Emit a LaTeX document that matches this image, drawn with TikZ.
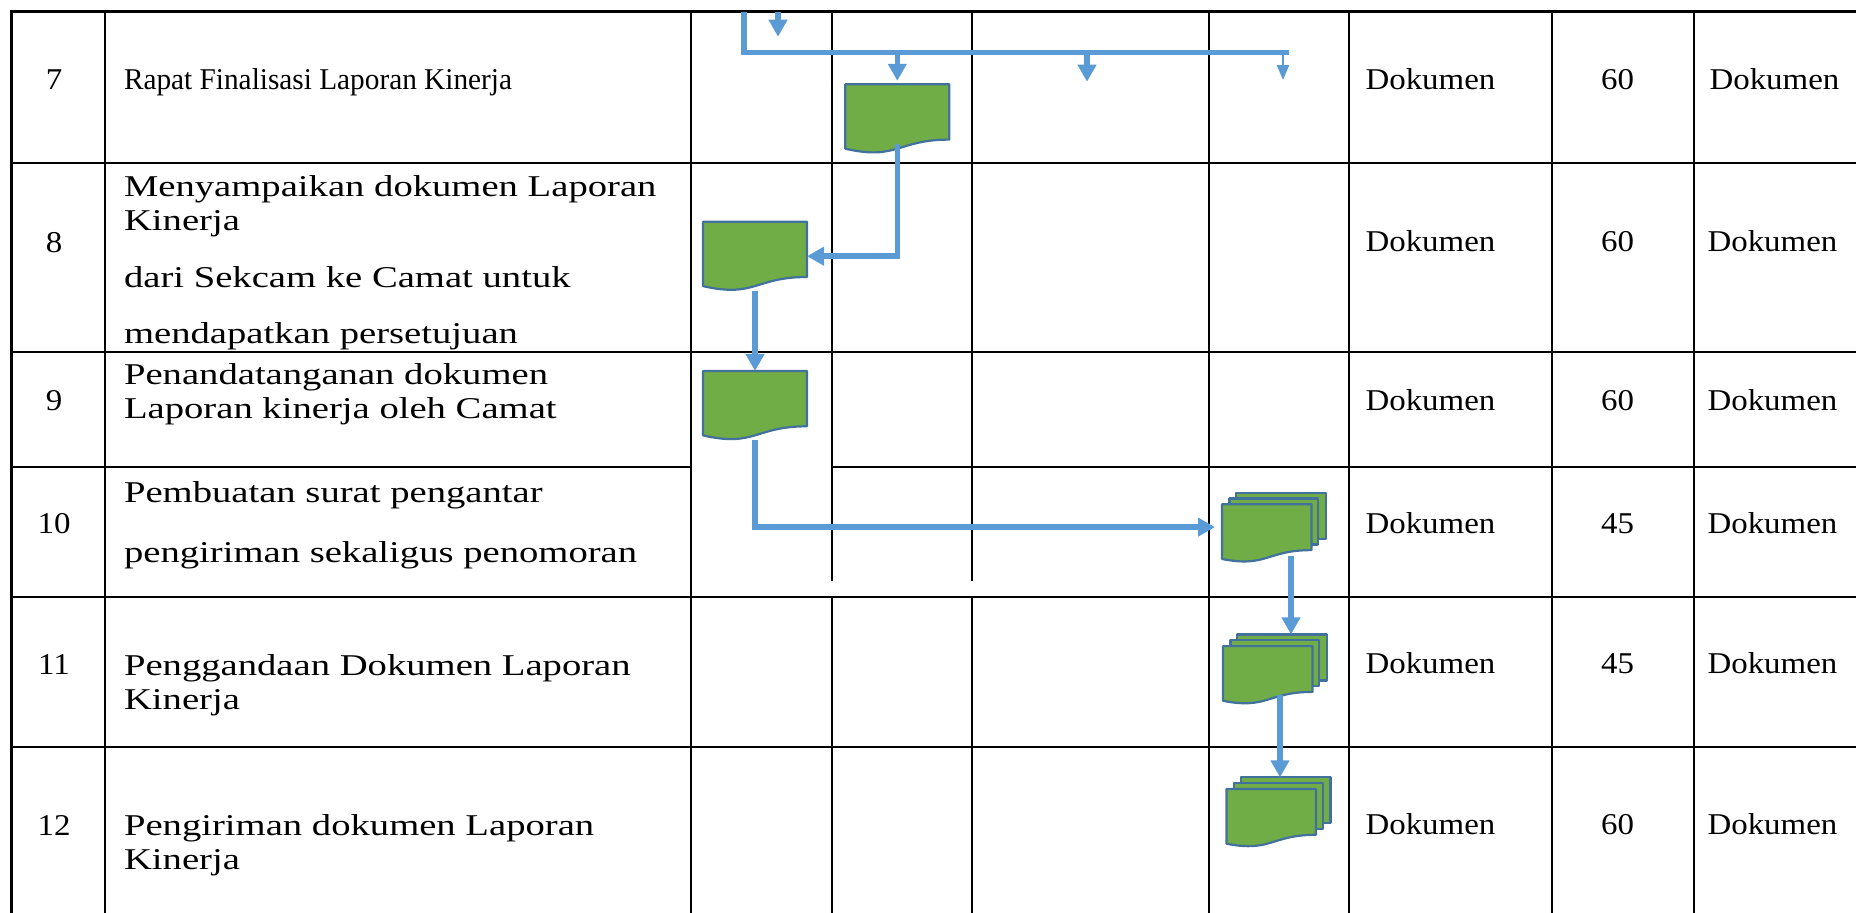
\documentclass[tikz,border=0pt]{standalone}
\usepackage{fontspec}
\usepackage{tikz}
\usetikzlibrary{arrows.meta,calc}
\newfontfamily\cellfont[FakeStretch=1.09]{Liberation Serif}
\newfontfamily\narrowfont[FakeStretch=0.97]{Liberation Serif}
\newfontfamily\descfont[FakeStretch=1.28]{Liberation Serif}
\definecolor{flowblue}{RGB}{91,155,213}
\definecolor{docgreen}{RGB}{112,173,71}
\definecolor{docedge}{RGB}{65,113,156}
\def\docpage(#1){\begin{scope}[shift={(#1.north west)}]
	\draw[docline] (0,0) -- (104,0) -- (104,55.3) .. controls (52,55.3) and (52,76.4) .. (0,64.4) -- cycle;
\end{scope}}
\def\multidoc(#1){\begin{scope}[shift={(#1.north west)}]
	\draw[docline] (14.3,0) rectangle (104,46);
	\draw[docline] (7.4,5.9) rectangle (96.3,51.9);
	\draw[docline] (0,11.7) -- (89.5,11.7) -- (89.5,57.5) .. controls (44.7,57.5) and (44.7,75.2) .. (0,66.4) -- cycle;
\end{scope}}

\begin{document}
\begin{tikzpicture}[x=1pt, y=-1pt,
	grid/.style={line width=2.3pt, black, line cap=rect},
	flowline/.style={line width=5.5pt, flowblue},
	flow/.style={flowline, -{Triangle[length=17pt,width=18pt]}},
	thinflow/.style={line width=2.8pt, flowblue, -{Triangle[length=15pt,width=12pt]}},
	docline/.style={line width=2.2pt, draw=docedge, fill=docgreen, line join=round},
	docbox/.style={minimum width=104pt, minimum height=69pt, inner sep=0pt, outer sep=0pt},
	num/.style={font=\cellfont\fontsize{30.2pt}{36pt}\selectfont, anchor=base},
	cell/.style={font=\cellfont\fontsize{30.2pt}{36pt}\selectfont, anchor=base west},
	desc/.style={font=\descfont\fontsize{30.2pt}{36pt}\selectfont, anchor=base west}]
	%%%%% START %%%%%
	\useasboundingbox (0,0) rectangle (1856,913);
	
	% table rules
	\draw[grid] (11.5,11.5) -- (1856,11.5);
	\draw[grid] (11.5,162.7) -- (1856,162.7);
	\draw[grid] (11.5,351.7) -- (1856,351.7);
	\draw[grid] (11.5,466.7) -- (691,466.7);
	\draw[grid] (832,466.7) -- (1856,466.7);
	\draw[grid] (11.5,596.7) -- (1856,596.7);
	\draw[grid] (11.5,747.3) -- (1856,747.3);
	
	\draw[grid] (11.5,11.5) -- (11.5,913);
	\draw[grid] (105,11.5) -- (105,913);
	\draw[grid] (691,11.5) -- (691,913);
	\draw[grid] (832,11.5) -- (832,580);
	\draw[grid] (832,596.7) -- (832,913);
	\draw[grid] (972,11.5) -- (972,580);
	\draw[grid] (972,596.7) -- (972,913);
	\draw[grid] (1209,11.5) -- (1209,913);
	\draw[grid] (1349,11.5) -- (1349,913);
	\draw[grid] (1552,11.5) -- (1552,913);
	\draw[grid] (1694,11.5) -- (1694,913);
	
	% row 7
	\node[num] (n7) at (54,89) {7};
	\node[cell, font=\narrowfont\fontsize{30.2pt}{36pt}\selectfont] (d7) at (120.5,89) {Rapat Finalisasi Laporan Kinerja};
	\node[cell] (in7) at (1362,89) {Dokumen};
	\node[num] (v7) at (1617.5,89) {60};
	\node[cell] (out7) at (1706,89) {Dokumen};
	
	% row 8
	\node[num] (n8) at (54,252) {8};
	\node[desc] (d8a) at (120.5,196) {Menyampaikan dokumen Laporan};
	\node[desc] (d8b) at (120.5,230) {Kinerja};
	\node[desc] (d8c) at (120.5,287) {dari Sekcam ke Camat untuk};
	\node[desc] (d8d) at (120.5,343) {mendapatkan persetujuan};
	\node[cell] (in8) at (1362,251) {Dokumen};
	\node[num] (v8) at (1617.5,251) {60};
	\node[cell] (out8) at (1704,251) {Dokumen};
	
	% row 9
	\node[num] (n9) at (54,410) {9};
	\node[desc] (d9a) at (120.5,384) {Penandatanganan dokumen};
	\node[desc] (d9b) at (120.5,418) {Laporan kinerja oleh Camat};
	\node[cell] (in9) at (1362,410) {Dokumen};
	\node[num] (v9) at (1617.5,410) {60};
	\node[cell] (out9) at (1704,410) {Dokumen};
	
	% row 10
	\node[num] (n10) at (54,533) {10};
	\node[desc] (d10a) at (120.5,502) {Pembuatan surat pengantar};
	\node[desc] (d10b) at (120.5,562) {pengiriman sekaligus penomoran};
	\node[cell] (in10) at (1362,533) {Dokumen};
	\node[num] (v10) at (1617.5,533) {45};
	\node[cell] (out10) at (1704,533) {Dokumen};
	
	% row 11
	\node[num] (n11) at (54,674) {11};
	\node[desc] (d11a) at (120.5,675) {Penggandaan Dokumen Laporan};
	\node[desc] (d11b) at (120.5,709) {Kinerja};
	\node[cell] (in11) at (1362,673) {Dokumen};
	\node[num] (v11) at (1617.5,673) {45};
	\node[cell] (out11) at (1704,673) {Dokumen};
	
	% row 12
	\node[num] (n12) at (54,835) {12};
	\node[desc] (d12a) at (120.5,835) {Pengiriman dokumen Laporan};
	\node[desc] (d12b) at (120.5,869) {Kinerja};
	\node[cell] (in12) at (1362,834) {Dokumen};
	\node[num] (v12) at (1617.5,834) {60};
	\node[cell] (out12) at (1704,834) {Dokumen};
	
	% documents
	\node[docbox] (doc7) at (897.3,118.8) {};
	\node[docbox] (doc8) at (755,256.2) {};
	\node[docbox] (doc9) at (755,405.5) {};
	\node[docbox] (doc10) at (1274,527.1) {};
	\node[docbox] (doc11) at (1275,668.9) {};
	\node[docbox] (doc12) at (1278.5,811.8) {};
	\docpage(doc7)
	\docpage(doc8)
	\docpage(doc9)
	\multidoc(doc10)
	\multidoc(doc11)
	\multidoc(doc12)
	
	% flow from previous page
	\coordinate (feedA) at (744,11.5);
	\coordinate (busend) at (1289,52.7);
	\coordinate (feedB) at (778,11.5);
	\coordinate (endB) at (778,36.7);
	\coordinate (endC) at (1087,81.7);
	\coordinate (endD) at (1283,80);
	\draw[flowline] (feedA) |- (busend);
	\draw[flow] (feedB) -- (endB);
	\draw[flow, shorten >=3.5pt] (doc7.north |- busend) -- (doc7.north);
	\draw[flow] (endC |- busend) -- (endC);
	\draw[thinflow] (endD |- busend) -- (endD);
	
	% flow between documents
	\draw[flow] ([yshift=9pt]doc7.south) |- (doc8.east);
	\draw[flow] (doc8.south) -- (doc9.north);
	\draw[flow, shorten >=7pt] (doc9.south) |- (doc10.west);
	\draw[flow] ($(doc10.south)+(17,-6)$) -- ($(doc10.south |- doc11.north)+(17,0)$);
	\draw[flow] ($(doc11.south)+(5,-8)$) -- ($(doc11.south |- doc12.north)+(5,0)$);
	
	%%%%% END %%%%%
\end{tikzpicture}
\end{document}
